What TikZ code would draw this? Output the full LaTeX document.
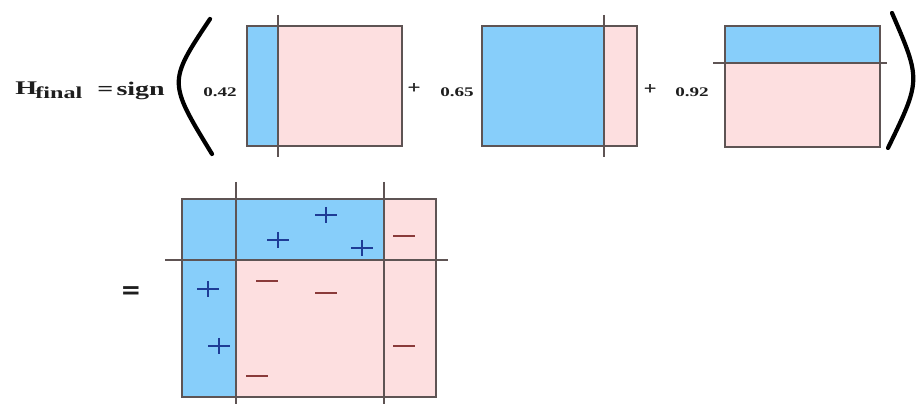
\documentclass[tikz,border=0pt]{standalone}
\usepackage{fontspec}
\newfontfamily\lblfont[FakeStretch=1.45]{Liberation Serif}
\newfontfamily\eqfont[FakeStretch=1.3,FakeBold=2.5]{Liberation Serif}
\newfontfamily\heavyfont{DejaVu Sans}
\definecolor{posblue}{HTML}{87CEFA}
\definecolor{negpink}{HTML}{FDDFE0}
\definecolor{edgegray}{HTML}{5E5454}
\definecolor{plusblue}{HTML}{1E3C96}
\definecolor{minusred}{HTML}{8A3A3A}
\definecolor{inkdark}{HTML}{1E1E1E}
\tikzset{
  boxedge/.style={draw=edgegray, line width=0.9pt},
  splitline/.style={draw=edgegray, line width=0.9pt},
  bigparen/.style={draw=black, line width=2.4pt, line cap=round},
  formula/.style={font=\lblfont\bfseries\fontsize{11}{13}\selectfont, text=inkdark, inner sep=0pt},
  subtext/.style={font=\lblfont\bfseries\fontsize{9.5}{11}\selectfont, text=inkdark, inner sep=0pt},
  weight/.style={font=\lblfont\bfseries\fontsize{7.5}{9}\selectfont, text=inkdark, inner sep=0pt},
  addsign/.style={font=\eqfont\fontsize{9.5}{11}\selectfont, text=inkdark, inner sep=0pt},
  plusmark/.style={draw=plusblue, line width=1.2pt},
  minusmark/.style={draw=minusred, line width=1pt}
}
\begin{document}
\begin{tikzpicture}[x=0.02cm, y=-0.02cm]
\useasboundingbox (0,0) rectangle (917,404);

% left-hand side of the formula
\node[formula, anchor=base west] (hletter) at (15,95) {H};
\node[subtext, anchor=base west] (hsub) at (35,99) {final};
\node[formula, anchor=base west] (signword) at (97,96) {=\,sign};

% large brackets
\draw[bigparen] (210,19) .. controls (168,82) .. (212,154);
\draw[bigparen] (892,13) .. controls (921,80) .. (888,148);

% weak classifier 1: vertical split
\fill[posblue] (247,26) rectangle (278,146);
\fill[negpink] (278,26) rectangle (402,146);
\draw[boxedge] (247,26) rectangle (402,146);
\draw[splitline] (278,15) -- (278,157);
\node[weight, anchor=base west] (w1) at (203,97) {0.42};

% weak classifier 2: vertical split
\fill[posblue] (482,26) rectangle (604,146);
\fill[negpink] (604,26) rectangle (637,146);
\draw[boxedge] (482,26) rectangle (637,146);
\draw[splitline] (604,15) -- (604,157);
\node[addsign] (plus1) at (414,88) {+};
\node[weight, anchor=base west] (w2) at (440,97) {0.65};

% weak classifier 3: horizontal split
\fill[posblue] (725,26) rectangle (880,63);
\fill[negpink] (725,63) rectangle (880,147);
\draw[boxedge] (725,26) rectangle (880,147);
\draw[splitline] (713,63) -- (887,63);
\node[addsign] (plus2) at (650,89) {+};
\node[weight, anchor=base west] (w3) at (675,97) {0.92};

% combined classifier
\node[font=\heavyfont\bfseries\fontsize{14}{16}\selectfont, text=inkdark, inner sep=0pt] (eqsign) at (131,293) {=};
\fill[posblue] (182,199) rectangle (236,397);
\fill[posblue] (236,199) rectangle (384,260);
\fill[negpink] (236,260) rectangle (436,397);
\fill[negpink] (384,199) rectangle (436,260);
\draw[boxedge] (182,199) rectangle (436,397);
\draw[splitline] (236,182) -- (236,404);
\draw[splitline] (384,182) -- (384,404);
\draw[splitline] (165,260) -- (448,260);

% positive samples
\foreach \px/\py in {326/215, 278/240, 362/248, 208/289, 219/346}
  \draw[plusmark] (\px-11,\py) -- (\px+11,\py) (\px,\py-8) -- (\px,\py+8);

% negative samples
\foreach \mx/\my in {404/236, 267/281, 326/293, 404/346, 257/376}
  \draw[minusmark] (\mx-11,\my) -- (\mx+11,\my);
\end{tikzpicture}
\end{document}
